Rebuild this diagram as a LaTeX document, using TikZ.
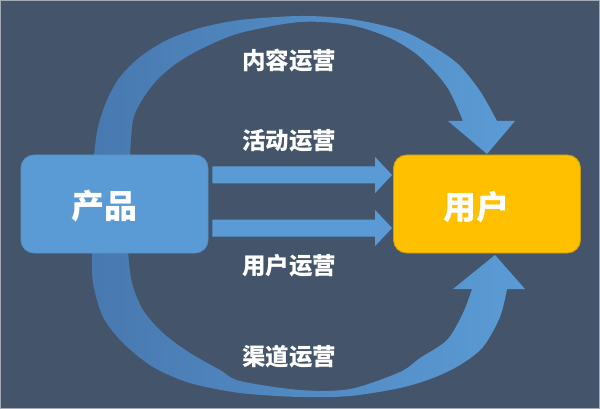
\documentclass[tikz,border=0pt]{standalone}
\usepackage{fontspec}
\newfontfamily\cjk{Noto Sans CJK SC}
\usetikzlibrary{calc}
\definecolor{bg}{HTML}{44546A}
\definecolor{framec}{HTML}{A3ABB6}
\definecolor{arcdark}{HTML}{4879B0}
\definecolor{arclight}{HTML}{5B9BD5}
\definecolor{prodblue}{HTML}{5B9BD5}
\definecolor{prodedge}{HTML}{5590C8}
\definecolor{gold}{HTML}{FFC000}
\definecolor{goldedge}{HTML}{C99A10}
\newcommand\mkflatarrow[1]{%
  \fill[flatfill] ($(prod.east)+(4,#1-8.5)$) -- ($(user.west)+(-18,#1-8.5)$)
    -- ($(user.west)+(-18,#1-18)$) -- ($(user.west)+(-1,#1)$)
    -- ($(user.west)+(-18,#1+18)$) -- ($(user.west)+(-18,#1+8.5)$)
    -- ($(prod.east)+(4,#1+8.5)$) -- cycle;}
\begin{document}
\begin{tikzpicture}[x=1pt,y=-1pt,
  box/.style={rectangle, rounded corners=13pt, minimum width=187pt, minimum height=98pt, inner sep=0pt, line width=0.8pt},
  big/.style={font=\cjk\bfseries\fontsize{33}{36}\selectfont, text=white, inner sep=0pt},
  lbl/.style={font=\cjk\bfseries\fontsize{23.5}{26}\selectfont, text=white, inner sep=0pt},
  arcfill/.style={left color=arcdark, right color=arclight},
  flatfill/.style={fill=arclight}]
\useasboundingbox (0,0) rectangle (600,409);
\fill[bg] (0,0) rectangle (600,409);
\draw[framec, line width=1pt] (0.5,0.5) rectangle (599.5,408.5);

% top curved arrow
\shade[arcfill] plot[smooth] coordinates {(94,162) (94,155) (98,127) (107,100) (120,77) (140,57) (167,40) (200,28) (240,20) (300,16) (350,19) (400,30) (432,46) (458,64) (480,91) (497,121)}
  -- (515,121) -- (487,154) -- (448,121)
  -- plot[smooth] coordinates {(463,121) (447,87) (420,57) (390,38) (350,25) (300,22) (240,33) (203,48) (177,63) (157,80) (142,100) (133,120) (130,155) (130,162)} -- cycle;

% bottom curved arrow
\shade[arcfill] plot[smooth] coordinates {(92,245) (92,252) (93,283) (103,317) (123,343) (153,367) (190,383) (240,393) (300,397) (350,396) (400,388) (433,378) (460,365) (483,347) (500,317) (507,289)}
  -- (525,289) -- (495,255) -- (453,289)
  -- plot[smooth] coordinates {(472,289) (463,313) (447,340) (420,358) (400,372) (350,389) (300,390) (240,381) (220,370) (190,353) (163,333) (143,310) (132,283) (128,252) (128,245)} -- cycle;

% boxes
\node[box, fill=prodblue, draw=prodedge] (prod) at (114.5,204) {};
\node[box, fill=gold, draw=goldedge] (user) at (487,204) {};
\node[big] (prodtxt) at ($(prod.center)+(-10.5,2)$) {产品};
\node[big] (usertxt) at ($(user.center)+(-11,3)$) {用户};

% straight arrows
\mkflatarrow{-29}
\mkflatarrow{24}

% labels
\node[lbl] (l1) at (289,61) {内容运营};
\node[lbl] (l2) at (289,141) {活动运营};
\node[lbl] (l3) at (289,266) {用户运营};
\node[lbl] (l4) at (289,357) {渠道运营};
\end{tikzpicture}
\end{document}
